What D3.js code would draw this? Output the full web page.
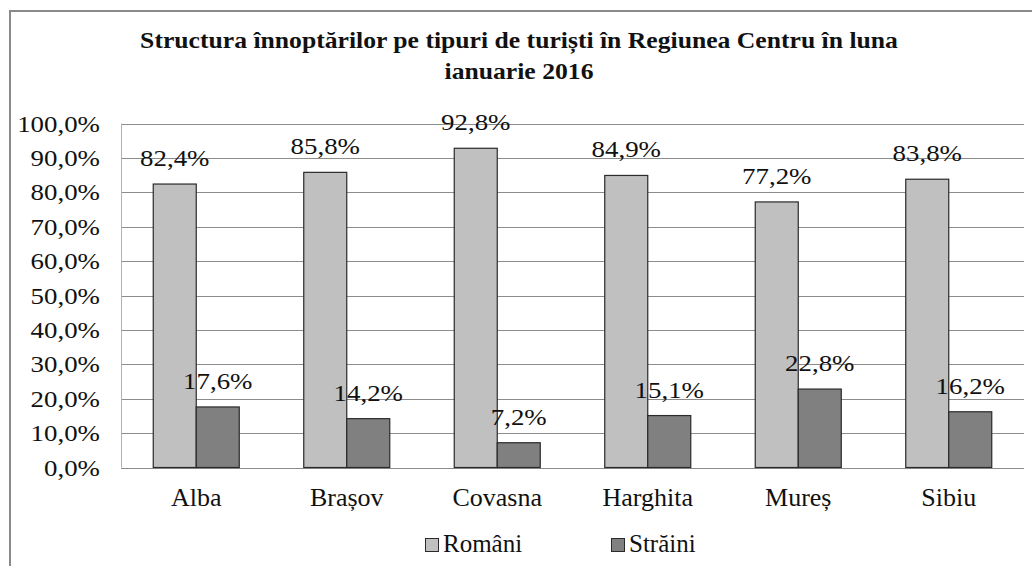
<!DOCTYPE html>
<html><head><meta charset="utf-8">
<script src="https://cdn.jsdelivr.net/npm/d3@7"></script>
<style>
html,body{margin:0;padding:0;background:#fff;}
svg{display:block;}
</style></head>
<body>
<svg id="chart" width="1032" height="566"></svg>
<script>
const categories = ["Alba", "Brașov", "Covasna", "Harghita", "Mureș", "Sibiu"];
const romani = [82.4, 85.8, 92.8, 84.9, 77.2, 83.8];
const straini = [17.6, 14.2, 7.2, 15.1, 22.8, 16.2];
const seriesNames = ["Români", "Străini"];
const yTicks = [0, 10, 20, 30, 40, 50, 60, 70, 80, 90, 100];
const titleLines = ["Structura înnoptărilor pe tipuri de turiști în Regiunea Centru în luna", "ianuarie 2016"];

const FONT = '"Liberation Serif"';
const colors = ["#c0c0c0", "#808080"];
const svg = d3.select("#chart");
const fmt = v => v.toFixed(1).replace(".", ",") + "%";
const NUM_SX = 1.12, NUM_FS = 24;

// outer border
svg.append("path").attr("d", "M10,566 L10,11 L1032,11")
  .attr("fill", "none").attr("stroke", "#8a8a8a").attr("stroke-width", 2);

const plot = {left: 121, right: 1024, top: 123.5, bottom: 467.5};
const x0 = d3.scaleBand().domain(categories).range([plot.left, plot.right]).paddingInner(0).paddingOuter(0);
const y = d3.scaleLinear().domain([0, 100]).range([plot.bottom, plot.top]);
const barW = x0.bandwidth() * 43 / 150.5;
const x1 = d3.scaleBand().domain(seriesNames).range([0, barW * 2]);

// gridlines
svg.append("g").selectAll("line").data(yTicks).join("line")
  .attr("x1", plot.left).attr("x2", plot.right)
  .attr("y1", d => Math.round(y(d)) + 0.5).attr("y2", d => Math.round(y(d)) + 0.5)
  .attr("stroke", "#8c8c8c").attr("stroke-width", 1.2);
svg.append("line").attr("x1", plot.left + 0.5).attr("x2", plot.left + 0.5)
  .attr("y1", y(100)).attr("y2", y(0)).attr("stroke", "#b0b0b0").attr("stroke-width", 1);

// y axis labels
const yAxis = d3.axisLeft(y).tickValues(yTicks).tickFormat(fmt).tickSize(0).tickPadding(0);
const gy = svg.append("g").attr("transform", `translate(100,0)`).call(yAxis);
gy.select(".domain").remove();
gy.attr("font-family", null).attr("font-size", null);
gy.selectAll(".tick text")
  .attr("x", null).attr("dy", null).attr("y", 7.5)
  .attr("transform", `scale(${NUM_SX},1)`)
  .attr("text-anchor", "end")
  .attr("font-family", "Liberation Serif").attr("font-size", NUM_FS)
  .style("font-family", FONT).style("font-size", NUM_FS + "px").attr("fill", "#111");

// bars
const data = categories.map((c, i) => ({cat: c, vals: [romani[i], straini[i]]}));
const groups = svg.append("g").selectAll("g").data(data).join("g")
  .attr("transform", d => `translate(${x0(d.cat) + x0.bandwidth() / 2 - barW},0)`);
groups.selectAll("rect").data(d => d.vals.map((v, k) => ({v, k}))).join("rect")
  .attr("x", d => x1(seriesNames[d.k]))
  .attr("y", d => y(d.v))
  .attr("width", x1.bandwidth())
  .attr("height", d => y(0) - y(d.v))
  .attr("fill", d => colors[d.k]).attr("stroke", "#2a2a2a").attr("stroke-width", 1.2);
groups.selectAll("text").data(d => d.vals.map((v, k) => ({v, k}))).join("text")
  .attr("transform", d => `translate(${x1(seriesNames[d.k]) + x1.bandwidth() / 2},${y(d.v) - 18}) scale(${NUM_SX},1)`)
  .attr("text-anchor", "middle")
  .attr("font-family", "Liberation Serif").attr("font-size", NUM_FS)
  .style("font-family", FONT).style("font-size", NUM_FS + "px").attr("fill", "#111")
  .text(d => fmt(d.v));

// x labels
svg.append("g").selectAll("text").data(categories).join("text")
  .attr("x", d => x0(d) + x0.bandwidth() / 2).attr("y", 506)
  .attr("text-anchor", "middle")
  .attr("font-family", "Liberation Serif").attr("font-size", 26)
  .style("font-family", FONT).style("font-size", "26px").attr("fill", "#111")
  .text(d => d);

// title
const titleG = svg.append("g");
const tt = titleG.selectAll("text").data(titleLines).join("text")
  .attr("text-anchor", "middle")
  .attr("font-family", "Liberation Serif").attr("font-size", 23).attr("font-weight", "bold")
  .style("font-family", FONT).style("font-size", "23px").style("font-weight", "bold").attr("fill", "#111")
  .text(d => d);
const natural = tt.nodes()[0].getComputedTextLength();
const tsx = Math.min(1.3, Math.max(0.7, 758 / natural));
tt.attr("transform", (d, i) => `translate(519,${48 + i * 31}) scale(${tsx},1)`);

// legend
const legX = [425, 611];
const leg = svg.append("g").selectAll("g").data(seriesNames).join("g")
  .attr("transform", (d, i) => `translate(${legX[i]},538)`);
leg.append("rect").attr("x", 0.5).attr("y", 0.5).attr("width", 13).attr("height", 13)
  .attr("fill", (d, i) => colors[i]).attr("stroke", "#2a2a2a").attr("stroke-width", 1);
leg.append("text").attr("x", 18).attr("y", 14)
  .attr("font-family", "Liberation Serif").attr("font-size", 25)
  .style("font-family", FONT).style("font-size", "25px").attr("fill", "#111")
  .text(d => d);
</script>
</body></html>
